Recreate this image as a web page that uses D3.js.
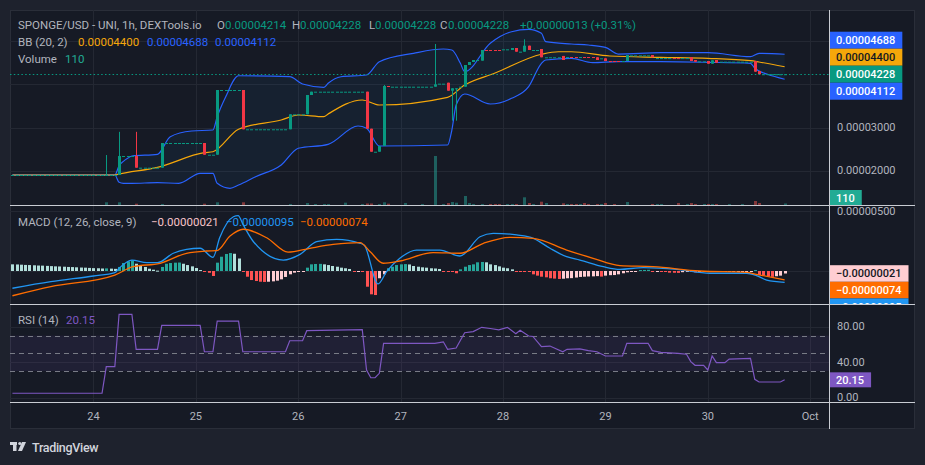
<!DOCTYPE html>
<html>
<head>
<meta charset="utf-8">
<script src="https://cdn.jsdelivr.net/npm/d3@7"></script>
<style>
  html, body { margin: 0; padding: 0; background: #1e222d; }
  svg { display: block; font-family: Roboto, "Noto Sans", sans-serif; }
</style>
</head>
<body>
<svg id="chart" width="925" height="465"></svg>
<script>
// prices are in units of 1e-8 (4688 -> 0.00004688), times are hours from 24 Sep 00:00 UTC

// notable candles: [hour, open, high, low, close]
var candles = [
  [3, 1906, 2366, 1906, 1906], [6, 1906, 2900, 1906, 2343], [10, 2343, 2900, 2074, 2074],
  [16, 2074, 2643, 2074, 2643], [26, 2643, 2643, 2373, 2373], [29, 2373, 3864, 2373, 3864],
  [35, 3864, 3864, 2959, 2959], [46, 2959, 3304, 2959, 3304], [50, 3304, 3749, 3304, 3749],
  [51, 3749, 3825, 3749, 3825], [64, 3825, 3825, 2972, 2972], [65, 2972, 2972, 2442, 2442],
  [67, 2442, 2574, 2442, 2574], [68, 2574, 3979, 2574, 3956], [69, 3956, 3956, 3940, 3940],
  [80, 3940, 4924, 3940, 3995], [83, 4032, 4032, 3848, 3848], [84, 3848, 3903, 3157, 3903],
  [85, 3903, 3903, 3157, 3903], [87, 3940, 4440, 3940, 4440], [88, 4440, 4509, 4440, 4509],
  [89, 4509, 4555, 4509, 4555], [91, 4540, 4786, 4540, 4786], [98, 4786, 4832, 4786, 4832],
  [99, 4832, 4832, 4747, 4747], [101, 4747, 5032, 4747, 4885], [102, 4885, 4885, 4786, 4786],
  [105, 4809, 4809, 4618, 4618], [110, 4649, 4649, 4555, 4555], [118, 4618, 4618, 4555, 4555],
  [120, 4594, 4594, 4532, 4532], [125, 4532, 4670, 4532, 4670], [131, 4670, 4670, 4618, 4618],
  [140, 4618, 4618, 4532, 4532], [141, 4555, 4555, 4516, 4516], [144, 4532, 4532, 4470, 4470],
  [145, 4470, 4548, 4470, 4548], [146, 4555, 4555, 4493, 4493], [155, 4532, 4532, 4286, 4286],
  [156, 4301, 4301, 4226, 4226], [162, 4214, 4228, 4228, 4228]
];
// flat hourly candles between them: [fromHour, toHour, price, isDown]
var dojiRuns = [
  [-19, 2, 1906, 0], [4, 5, 1906, 0], [7, 9, 2343, 0], [11, 15, 2074, 0], [17, 25, 2643, 0],
  [27, 28, 2373, 0], [30, 34, 3864, 0], [36, 45, 2959, 0], [47, 49, 3304, 0], [52, 63, 3825, 0],
  [66, 66, 2442, 0], [70, 79, 3940, 0], [81, 82, 4010, 0], [86, 86, 3940, 0], [90, 90, 4555, 0],
  [92, 95, 4786, 1], [96, 97, 4801, 0], [100, 100, 4747, 0], [103, 104, 4786, 0], [106, 109, 4618, 0],
  [111, 111, 4624, 0], [112, 113, 4624, 1], [114, 114, 4624, 0], [115, 117, 4624, 1], [119, 119, 4594, 0],
  [121, 123, 4532, 1], [124, 124, 4532, 0], [126, 130, 4662, 0], [132, 135, 4600, 0], [136, 137, 4600, 1],
  [138, 139, 4600, 0], [142, 143, 4524, 0], [147, 154, 4516, 0], [157, 161, 4228, 0]
];
var prevClose = 4215;

// volume: [hour, volume]
var volumes = [
  [3, 197], [6, 197], [10, 95], [16, 73], [26, 95], [29, 197], [35, 197], [46, 73], [50, 146],
  [52, 73], [54, 73], [55, 73], [59, 168], [63, 73], [64, 110], [65, 110], [67, 73], [68, 197],
  [69, 95], [73, 146], [77, 73], [80, 3577], [82, 73], [83, 146], [84, 219], [85, 168], [87, 657],
  [88, 146], [89, 73], [91, 73], [93, 73], [94, 73], [95, 73], [97, 73], [98, 73], [99, 73],
  [101, 562], [102, 146], [103, 73], [105, 241], [106, 146], [110, 124], [111, 73], [112, 73],
  [113, 73], [114, 73], [115, 146], [116, 73], [118, 73], [119, 73], [120, 146], [122, 73],
  [125, 219], [131, 73], [132, 73], [133, 73], [137, 146], [139, 73], [140, 146], [141, 73],
  [143, 73], [144, 73], [145, 73], [146, 73], [149, 73], [152, 73], [155, 292], [156, 146], [162, 110]
];

// Bollinger bands (20, 2): [hour, value]
var bbUpper = [
  [-19, 1906], [5, 1906], [6, 2118], [7, 2220], [8, 2290], [9, 2343], [15, 2382], [18, 2788],
  [23, 2919], [28, 2942], [29, 3249], [31, 3710], [34, 4193], [46, 4170], [49, 4002], [54, 3926],
  [55, 4018], [58, 4170], [64, 4210], [67, 4516], [75, 4710], [82, 4809], [84, 4786], [86, 4479],
  [87, 4286], [93, 4940], [98, 5207], [102, 5263], [105, 5170], [106, 4977], [112, 4924],
  [116, 4901], [120, 4848], [123, 4693], [133, 4723], [144, 4723], [154, 4631], [156, 4710], [162, 4688]
];
var bbBasis = [
  [-19, 1906], [5, 1906], [6, 1928], [15, 2083], [26, 2419], [28, 2442], [34, 2959], [44, 3173],
  [48, 3288], [54, 3249], [55, 3311], [63, 3634], [67, 3518], [83, 3696], [87, 3979], [94, 4249],
  [105, 4687], [109, 4746], [112, 4746], [121, 4647], [133, 4617], [144, 4594], [154, 4539],
  [156, 4509], [162, 4400]
];
var bbLower = [
  [-19, 1906], [5, 1906], [6, 1738], [7, 1714], [9, 1714], [15, 1728], [20, 1714], [25, 1945],
  [28, 1945], [29, 1714], [32, 1599], [34, 1675], [38, 1866], [44, 2136], [48, 2521], [55, 2613],
  [62, 3035], [64, 2982], [67, 2574], [83, 2597], [84, 2942], [85, 3518], [87, 3772], [93, 3541],
  [98, 3673], [102, 3940], [105, 4479], [106, 4555], [112, 4594], [117, 4493], [123, 4516],
  [133, 4516], [144, 4502], [154, 4479], [155, 4364], [158, 4226], [162, 4112]
];

// MACD (12, 26, 9), units of 1e-8; histogram is one value per hour starting at histStart
var histStart = -19;
var macdHist = [
  56, 55, 53, 51, 50, 48, 46, 45, 43, 41, 39, 38, 36, 34, 33, 31, 29, 28, 26, 24, 23, 21, 22, 20, 18,
  34, 67, 81, 90, 61, 48, 34, 19, 11, 3, 34, 61, 67, 70, 71, 61, 50, 39, 25, 8, -3, -15, -42,
  70, 120, 143, 151, 145, 105, -3, -48, -76, -84, -90, -92, -90, -87, -81, -70, -50, -28, -14, -7, -3,
  28, 56, 59, 60, 56, 50, 42, 36, 28, 23, 17, -3, -3, -8, -132, -196, -202, -61, -28,
  23, 36, 50, 56, 58, 55, 42, 36, 31, 28, 23, 21, 17, -3, -4, -6, -19, 14, 36, 50, 56, 73, 76, 73, 56, 50, 39, 28, 23, 14,
  -1, -3, -4, -8, -28, -39, -48, -53, -61, -64, -67, -65, -61, -60, -55, -50, -48, -46, -45, -43, -47, -39, -35, -34, -28, -19, -11, -3, -2,
  8, 9, 10, -3, -3, -4, -5, -14, -15, -16, -10, -5, -8, -12, -9, -7, -5, -3, -3, -8, -7, -6, -6, -6, -6, -6, -5, 8, -34, -39, -46, -49, -44, -39, -21
];
var macdLine = [
  [-19, -145], [-10, -90], [0, -42], [5, -14], [6, 23], [9, 92], [12.5, 70], [15, 70], [18.7, 149],
  [21.8, 182], [25, 191], [28, 115], [29.6, 282], [32.8, 456], [33.9, 465], [35.1, 387], [37.5, 246],
  [44.5, 92], [48.4, 140], [52.3, 246], [57, 266], [62.5, 233], [63.5, 215], [66.7, -109], [68.7, -6],
  [71.8, 107], [75.7, 176], [81.2, 176], [85.9, 126], [90.6, 288], [93.7, 317], [99.2, 303],
  [103.1, 275], [107, 191], [110.9, 120], [114, 92], [119.5, 36], [123.4, 14], [128.9, 28],
  [136.7, 14], [144.5, -19], [153.1, -19], [155.4, -39], [157.8, -76], [162, -95]
];
var signalLine = [
  [-19, -208], [-10, -132], [5, -34], [9.3, 36], [15.6, 65], [21.8, 149], [26.5, 168], [28.9, 171],
  [32, 294], [35.1, 351], [40.6, 279], [45.6, 158], [50.7, 191], [56.2, 223], [62.5, 239],
  [64.8, 164], [67.9, 65], [71.8, 84], [79.6, 155], [85.9, 149], [91.4, 233], [97.6, 283],
  [103.1, 275], [110.9, 176], [117.1, 107], [123.4, 45], [131.2, 36], [142.1, 0], [153.1, -11],
  [155.4, -28], [162, -74]
];

// RSI (14): [hour, value]
var rsiLine = [
  [-19, 5], [2, 5], [3, 35], [5, 35], [6, 94], [9, 94], [10, 54.5], [15, 54.5], [16, 81.5], [25, 81.5],
  [26, 51.8], [28, 51.8], [29, 86.4], [34, 86.4], [35, 51.8], [45, 51.8], [46, 64.2], [49, 64.2],
  [50, 75.5], [63, 76.6], [64, 31.2], [65, 22.5], [66, 22.5], [67, 27.5], [68, 61.3], [80, 61.3],
  [82, 63], [83, 54.5], [85, 56], [87, 73.2], [89, 74.5], [91, 79.3], [93, 78], [95, 76.5],
  [97, 79.3], [99, 72], [100, 76], [102, 69.5], [103, 69], [105, 57.5], [107, 58.2], [110, 51.8],
  [111, 54.5], [114, 55], [116, 53], [118, 51.8], [120, 47], [124, 47], [125, 61.3], [130, 61.3],
  [131, 53], [133, 51], [137, 50], [139, 49], [140, 40.6], [141, 36.5], [143, 36.5], [144, 31.2],
  [145, 47], [146, 39.5], [148, 39.5], [149, 43.5], [154, 44.2], [155, 20.7], [156, 17.7],
  [161, 17.7], [162, 20.15]
];

var priceTicks = [2000, 3000, 4000, 5000];
var macdTicks = [0, 500];
var rsiTicks = [0, 40, 80];
var rsiLevels = [30, 50, 70];

var W = 925, H = 465;
var plotL = 10, plotR = 829, axisR = 915;
var t0 = Date.UTC(2023, 8, 24);
function hd(h) { return new Date(t0 + h * 3600e3); }

var x = d3.scaleTime().domain([hd(-19.57), hd(172.4)]).range([plotL, plotR]);
var yMain = d3.scaleLinear().domain([1214.3, 5707.4]).range([205, 10]);
var yVol = d3.scaleLinear().domain([0, d3.max(volumes, function(d) { return d[1]; })]).range([205, 156]);
var yMacd = d3.scaleLinear().domain([-277.3, 546.2]).range([304, 206]);
var yRsi = d3.scaleLinear().domain([-4.85, 105.6]).range([402, 304]);

var up = '#089981', down = '#f23645';
var fmt8 = function(v) { return (v < 0 ? '\u2212' : '') + (Math.abs(v) / 1e8).toFixed(8); };
function cx(h) { return Math.round(x(hd(h))); }

// expand candles
var bars = [];
candles.forEach(function(c) {
  bars.push({ h: c[0], o: c[1], hi: c[2], lo: c[3], c: c[4], down: c[4] < c[1] });
});
dojiRuns.forEach(function(r) {
  for (var h = r[0]; h <= r[1]; h++) bars.push({ h: h, o: r[2], hi: r[2], lo: r[2], c: r[2], down: r[3] === 1 });
});
var barByH = {};
bars.forEach(function(b) { barByH[b.h] = b; });
var last = barByH[162];

var svg = d3.select('#chart');
svg.append('rect').attr('width', W).attr('height', H).attr('fill', '#1e222d');
svg.append('rect').attr('x', 10.5).attr('y', 10.5).attr('width', 904).attr('height', 418)
  .attr('fill', '#161a25').attr('stroke', '#2a2e39');

var defs = svg.append('defs');
function clip(id, x0, y0, w, h) {
  defs.append('clipPath').attr('id', id).append('rect').attr('x', x0).attr('y', y0).attr('width', w).attr('height', h);
  return 'url(#' + id + ')';
}
var clipMain = clip('cmain', plotL, 10, plotR - plotL, 195);
var clipMacd = clip('cmacd', plotL, 206, plotR - plotL, 98);
var clipRsi = clip('crsi', plotL, 304, plotR - plotL, 98);
var clipAxMain = clip('camain', plotR, 10, axisR - plotR, 195);
var clipAxMacd = clip('camacd', plotR, 206, axisR - plotR, 98);
var clipAxRsi = clip('carsi', plotR, 304, axisR - plotR, 98);

var grid = '#242833';
// vertical day grid
var days = d3.utcDay.range(hd(0), hd(169));
svg.append('g').selectAll('line').data(days).join('line')
  .attr('x1', function(d) { return Math.round(x(d)) + 0.5; })
  .attr('x2', function(d) { return Math.round(x(d)) + 0.5; })
  .attr('y1', 10).attr('y2', 402).attr('stroke', grid);

// horizontal grids
function hgrid(ticks, y, cp) {
  svg.append('g').attr('clip-path', cp).selectAll('line').data(ticks).join('line')
    .attr('x1', plotL).attr('x2', plotR)
    .attr('y1', function(d) { return Math.round(y(d)) + 0.5; })
    .attr('y2', function(d) { return Math.round(y(d)) + 0.5; })
    .attr('stroke', grid);
}
hgrid(priceTicks, yMain, clipMain);
hgrid(macdTicks, yMacd, clipMacd);
hgrid(rsiTicks, yRsi, clipRsi);

// ---------- main pane ----------
var gMain = svg.append('g').attr('clip-path', clipMain);
var lineOf = function(y, curve) {
  return d3.line().x(function(d) { return x(hd(d[0])); }).y(function(d) { return y(d[1]); }).curve(curve || d3.curveLinear);
};
var bandPath = lineOf(yMain)(bbUpper) + 'L' + lineOf(yMain)(bbLower.slice().reverse()).slice(1) + 'Z';
gMain.append('path').attr('d', bandPath).attr('fill', 'rgba(33,150,243,0.06)');

// volume
gMain.selectAll('.vol').data(volumes).join('rect')
  .attr('x', function(d) { return cx(d[0]) - 1; })
  .attr('width', 3)
  .attr('y', function(d) { return Math.min(yVol(d[1]), 204); })
  .attr('height', function(d) { return Math.max(1, 205 - yVol(d[1])); })
  .attr('fill', function(d) { var b = barByH[d[0]]; return b && b.down ? 'rgba(239,83,80,0.5)' : 'rgba(38,166,154,0.5)'; });

gMain.append('path').attr('d', lineOf(yMain, d3.curveMonotoneX)(bbUpper)).attr('fill', 'none').attr('stroke', '#2962ff').attr('stroke-width', 1.2);
gMain.append('path').attr('d', lineOf(yMain, d3.curveMonotoneX)(bbLower)).attr('fill', 'none').attr('stroke', '#2962ff').attr('stroke-width', 1.2);
gMain.append('path').attr('d', lineOf(yMain, d3.curveMonotoneX)(bbBasis)).attr('fill', 'none').attr('stroke', '#f5a70a').attr('stroke-width', 1.2);

// candles
gMain.selectAll('.wick').data(bars.filter(function(b) { return b.hi > b.lo; })).join('line')
  .attr('x1', function(d) { return cx(d.h) + 0.5; }).attr('x2', function(d) { return cx(d.h) + 0.5; })
  .attr('y1', function(d) { return yMain(d.hi); }).attr('y2', function(d) { return yMain(d.lo); })
  .attr('stroke', function(d) { return d.down ? down : up; });
gMain.selectAll('.body').data(bars).join('rect')
  .attr('x', function(d) { return cx(d.h) - 1; }).attr('width', 3)
  .attr('y', function(d) { return yMain(Math.max(d.o, d.c)); })
  .attr('height', function(d) { return Math.max(1, Math.abs(yMain(d.o) - yMain(d.c))); })
  .attr('fill', function(d) { return d.down ? down : up; });

// last price line
svg.append('line').attr('x1', plotL).attr('x2', plotR)
  .attr('y1', Math.round(yMain(last.c)) + 0.5).attr('y2', Math.round(yMain(last.c)) + 0.5)
  .attr('stroke', up).attr('stroke-dasharray', '1.5,2.3');

// ---------- MACD pane ----------
var gMacd = svg.append('g').attr('clip-path', clipMacd);
var hist = macdHist.map(function(v, i) { return { h: histStart + i, v: v, prev: i ? macdHist[i - 1] : v }; });
gMacd.selectAll('.hist').data(hist).join('rect')
  .attr('x', function(d) { return cx(d.h) - 1; }).attr('width', 3)
  .attr('y', function(d) { return d.v >= 0 ? yMacd(d.v) : yMacd(0); })
  .attr('height', function(d) { return Math.max(1, Math.abs(yMacd(d.v) - yMacd(0))); })
  .attr('fill', function(d) {
    if (d.v >= 0) return d.v > d.prev ? '#26a69a' : '#b2dfdb';
    return d.v < d.prev ? '#ff5252' : '#ffcdd2';
  });
gMacd.append('path').attr('d', lineOf(yMacd, d3.curveMonotoneX)(macdLine)).attr('fill', 'none').attr('stroke', '#2196f3').attr('stroke-width', 1.3);
gMacd.append('path').attr('d', lineOf(yMacd, d3.curveMonotoneX)(signalLine)).attr('fill', 'none').attr('stroke', '#ff6d00').attr('stroke-width', 1.3);

// ---------- RSI pane ----------
var gRsi = svg.append('g').attr('clip-path', clipRsi);
gRsi.append('rect').attr('x', plotL).attr('width', plotR - plotL)
  .attr('y', yRsi(d3.max(rsiLevels))).attr('height', yRsi(d3.min(rsiLevels)) - yRsi(d3.max(rsiLevels)))
  .attr('fill', 'rgba(126,87,194,0.1)');
gRsi.selectAll('.lvl').data(rsiLevels).join('line')
  .attr('x1', plotL).attr('x2', plotR)
  .attr('y1', function(d) { return Math.round(yRsi(d)) + 0.5; }).attr('y2', function(d) { return Math.round(yRsi(d)) + 0.5; })
  .attr('stroke', '#787b86').attr('stroke-dasharray', '5,4');
gRsi.append('path').attr('d', lineOf(yRsi)(rsiLine)).attr('fill', 'none').attr('stroke', '#7e57c2').attr('stroke-width', 1.2);

// ---------- value labels on the price scale ----------
// stacked around an anchor label so they do not overlap
function stack(items, anchor, bh, yMin, yMax) {
  var s = items.slice().sort(function(a, b) { return a.y - b.y; });
  var ai = s.indexOf(anchor);
  s.forEach(function(d) { d.ly = d.y; });
  for (var i = ai - 1; i >= 0; i--) s[i].ly = Math.min(s[i].y, s[i + 1].ly - bh);
  for (var j = ai + 1; j < s.length; j++) s[j].ly = Math.max(s[j].y, s[j - 1].ly + bh);
  s.forEach(function(d) { d.ly = Math.max(yMin + bh / 2, Math.min(yMax - bh / 2, d.ly)); d.bh = bh; });
}
var lastUpper = bbUpper[bbUpper.length - 1][1], lastBasis = bbBasis[bbBasis.length - 1][1], lastLower = bbLower[bbLower.length - 1][1];
var mainLabels = [
  { y: yMain(lastUpper), text: fmt8(lastUpper), bg: '#2962ff', fg: '#ffffff' },
  { y: yMain(lastBasis), text: fmt8(lastBasis), bg: '#f5a70a', fg: '#131722' },
  { y: yMain(last.c), text: fmt8(last.c), bg: up, fg: '#ffffff' },
  { y: yMain(lastLower), text: fmt8(lastLower), bg: '#2962ff', fg: '#ffffff' }
];
stack(mainLabels, mainLabels[2], 17, 10, 400);
var lastVol = volumes[volumes.length - 1][1];
var volLabel = [{ y: yVol(lastVol), text: String(lastVol), bg: '#22ab94', fg: '#ffffff' }];
stack(volLabel, volLabel[0], 15, 10, 205);

var lastHist = macdHist[macdHist.length - 1], lastMacd = macdLine[macdLine.length - 1][1], lastSig = signalLine[signalLine.length - 1][1];
var macdLabels = [
  { y: yMacd(lastHist), text: fmt8(lastHist), bg: '#ffcdd2', fg: '#131722' },
  { y: yMacd(lastSig), text: fmt8(lastSig), bg: '#ff6d00', fg: '#ffffff' },
  { y: yMacd(lastMacd), text: fmt8(lastMacd), bg: '#2196f3', fg: '#ffffff' }
];
stack(macdLabels, macdLabels[0], 16.6, 206, 400);

var lastRsi = rsiLine[rsiLine.length - 1][1];
var rsiLabel = [{ y: yRsi(lastRsi), text: lastRsi.toFixed(2), bg: '#7e57c2', fg: '#ffffff' }];
stack(rsiLabel, rsiLabel[0], 15, 304, 402);

// ---------- axes ----------
var axisText = '#b2b5be';
function covered(yv, labels) {
  return labels.some(function(l) { return Math.abs(l.ly - yv) < l.bh / 2 + 5; });
}
function axisLabels(ticks, y, cp, f, labels) {
  svg.append('g').attr('clip-path', cp).selectAll('text')
    .data(ticks.filter(function(d) { return !covered(y(d), labels); })).join('text')
    .attr('x', 837).attr('y', function(d) { return y(d); }).attr('dominant-baseline', 'central')
    .attr('fill', axisText).attr('font-size', 11).text(f);
}
axisLabels(priceTicks, yMain, clipAxMain, function(d) { return (d / 1e8).toFixed(8); }, mainLabels.concat(volLabel));
axisLabels(macdTicks, yMacd, clipAxMacd, function(d) { return (d / 1e8).toFixed(8); }, macdLabels);
axisLabels(rsiTicks, yRsi, clipAxRsi, function(d) { return d.toFixed(2); }, rsiLabel);

svg.append('g').selectAll('text').data(days).join('text')
  .attr('x', function(d) { return x(d); }).attr('y', 416.7).attr('text-anchor', 'middle')
  .attr('dominant-baseline', 'central').attr('fill', axisText).attr('font-size', 11)
  .text(function(d) { return d.getUTCDate() === 1 ? d3.utcFormat('%b')(d) : d3.utcFormat('%-d')(d); });

function drawLabels(items, cp) {
  var g = svg.append('g').attr('clip-path', cp);
  items.forEach(function(d) {
    var r = g.append('rect').attr('x', plotR).attr('y', d.ly - d.bh / 2).attr('height', d.bh).attr('fill', d.bg);
    var t = g.append('text').attr('x', plotR + 7).attr('y', d.ly + 0.5).attr('dominant-baseline', 'central')
      .attr('font-size', 11).attr('font-weight', 500).attr('fill', d.fg).text(d.text);
    r.attr('width', t.node().getComputedTextLength() + 14);
  });
}
drawLabels(volLabel, clipAxMain);
drawLabels(mainLabels, clipAxMain);
drawLabels(macdLabels, clipAxMacd);
drawLabels(rsiLabel, clipAxRsi);

// separators
var sep = '#c9ccd3';
[[plotL, 205.5, axisR, 205.5], [plotL, 304.5, axisR, 304.5], [plotL, 402.5, axisR, 402.5], [plotR + 0.5, 10, plotR + 0.5, 429]]
  .forEach(function(l) {
    svg.append('line').attr('x1', l[0]).attr('y1', l[1]).attr('x2', l[2]).attr('y2', l[3]).attr('stroke', sep).attr('stroke-width', 1);
  });

// ---------- legends ----------
var legendGrey = '#b2b5be';
function legend(y, parts) {
  var t = svg.append('text').attr('y', y).attr('dominant-baseline', 'central').attr('font-size', 11.5);
  parts.forEach(function(p) {
    t.append('tspan').attr('x', p[0]).attr('fill', p[2]).text(p[1]);
  });
}
var chg = last.c - prevClose;
legend(25, [
  [18, 'SPONGE/USD - UNI, 1h, DEXTools.io', legendGrey],
  [217, 'O', legendGrey], [225, fmt8(last.o), up],
  [292, 'H', legendGrey], [300, fmt8(last.hi), up],
  [369, 'L', legendGrey], [375, fmt8(last.lo), up],
  [440, 'C', legendGrey], [448, fmt8(last.c), up],
  [520, '+' + fmt8(chg) + ' (+' + (chg / prevClose * 100).toFixed(2) + '%)', up]
]);
legend(42, [
  [18, 'BB (20, 2)', legendGrey],
  [78, fmt8(lastBasis), '#f5a70a'], [147, fmt8(lastUpper), '#2962ff'], [215, fmt8(lastLower), '#2962ff']
]);
legend(59, [[18, 'Volume', legendGrey], [65, String(lastVol), '#22ab94']]);
legend(221.7, [
  [18, 'MACD (12, 26, close, 9)', legendGrey],
  [151, fmt8(lastHist), '#f8c4ca'], [226, fmt8(lastMacd), '#2196f3'], [300, fmt8(lastSig), '#ff6d00']
]);
legend(320, [[18, 'RSI (14)', legendGrey], [66, lastRsi.toFixed(2), '#7e57c2']]);

// TradingView mark
var logo = svg.append('g').attr('fill', '#d1d4dc');
logo.append('rect').attr('x', 10).attr('y', 442).attr('width', 7).attr('height', 3);
logo.append('rect').attr('x', 13).attr('y', 442).attr('width', 3.5).attr('height', 9);
logo.append('circle').attr('cx', 19.8).attr('cy', 443.5).attr('r', 1.6);
logo.append('path').attr('d', 'M22,442 L26,442 L22,451 L18,451 Z');
svg.append('text').attr('x', 32).attr('y', 447).attr('dominant-baseline', 'central')
  .attr('font-size', 12.5).attr('font-weight', 500).attr('fill', '#d1d4dc').attr('letter-spacing', -0.3).text('TradingView');
</script>
</body>
</html>
